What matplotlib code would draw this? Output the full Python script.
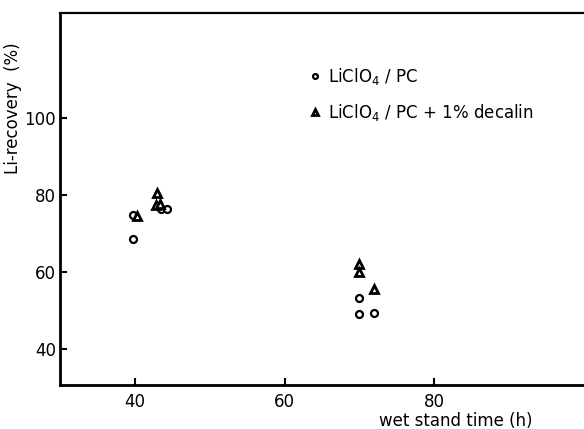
import matplotlib
matplotlib.use("Agg")
import matplotlib.pyplot as plt

# Data
pc_x = [39.8, 39.8, 43.5, 44.3, 70.0, 69.9, 71.9]
pc_y = [74.8, 68.7, 76.3, 76.4, 53.3, 49.1, 49.4]
dec_x = [40.35, 42.9, 42.8, 43.4, 69.9, 69.9, 71.95]
dec_y = [74.6, 80.5, 77.5, 77.6, 62.1, 60.0, 55.5]
xticks = [40, 60, 80]
yticks = [40, 60, 80, 100]
labels = ["LiClO$_4$ / PC", "LiClO$_4$ / PC + 1% decalin"]

plt.rcParams['font.family'] = ['DejaVu Sans']
plt.rcParams['mathtext.fontset'] = 'dejavusans'

fig = plt.figure(figsize=(5.84, 4.29), dpi=100)
ax = fig.add_axes([60/584, 1-385/429, 524/584, (385-13)/429])

ax.plot(pc_x, pc_y, linestyle='none', marker='o', ms=5, mfc='white',
        mec='black', mew=1.6, label=labels[0])
ax.plot(dec_x, dec_y, linestyle='none', marker='^', ms=5.5, mfc='white',
        mec='black', mew=2.0, label=labels[1])

ax.set_xlim(30, 100)
ax.set_ylim(30.6, 127.4)
ax.set_xticks(xticks)
ax.set_yticks(yticks)
ax.tick_params(direction='in', length=5, width=1.5, labelsize=12)
ax.tick_params(axis='y', pad=3)
ax.tick_params(axis='x', pad=6)

ax.spines['right'].set_visible(False)
ax.spines['left'].set_linewidth(2)
ax.spines['bottom'].set_linewidth(2)
ax.spines['top'].set_linewidth(1.6)

ax.set_xlabel("wet stand time (h)", fontsize=12)
ax.xaxis.set_label_coords((456-60)/524, (385-421)/372)
ax.xaxis.label.set_va('center')
ax.set_ylabel("Li-recovery  (%)", fontsize=12)
ax.yaxis.set_label_coords((13.5-60)/524, (385-108)/372)
ax.yaxis.label.set_va('center')

leg = ax.legend(frameon=False, loc='center left',
                bbox_to_anchor=((300-60)/524, (385-94)/372),
                fontsize=12, labelspacing=0.9, handlelength=0.8,
                handletextpad=0.4, markerscale=0.7, borderpad=0)

fig.savefig("out.png", dpi=100)
